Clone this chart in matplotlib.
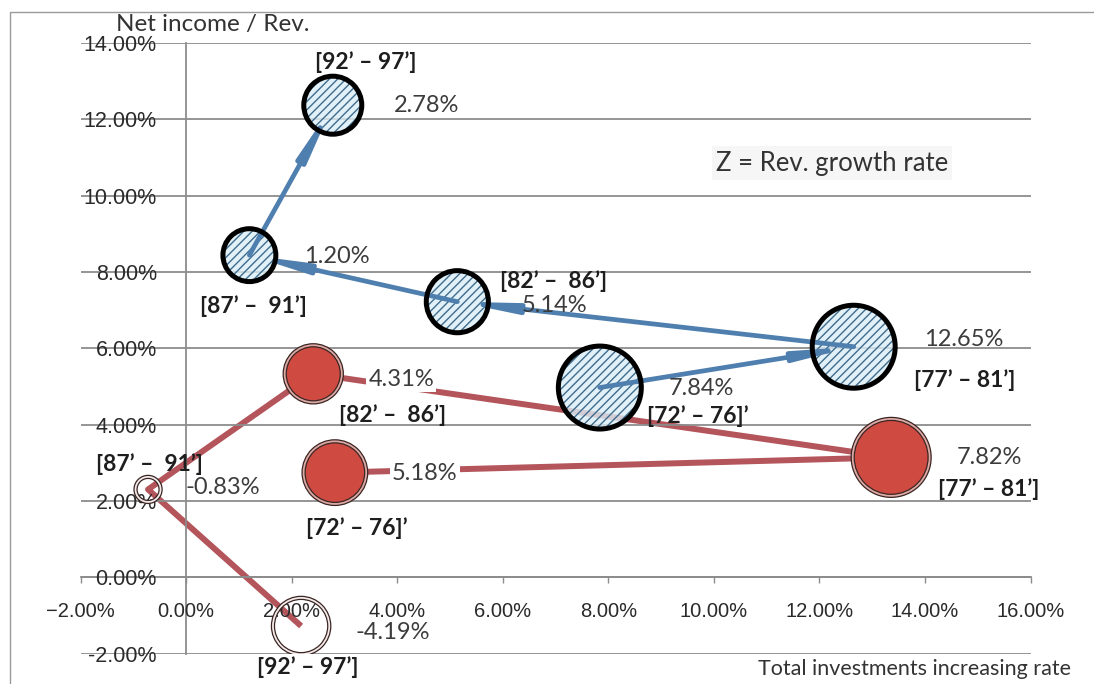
import numpy as np
import matplotlib
matplotlib.use("Agg")
import matplotlib.pyplot as plt
from matplotlib.patches import Rectangle

plt.rcParams['font.family'] = ['Lato', 'DejaVu Sans']
plt.rcParams['hatch.linewidth'] = 1.0

# ---- data ----
periods = ["[72’ – 76]’", "[77’ – 81’]", "[82’ –  86’]", "[87’ –  91’]", "[92’ – 97’]"]

# blue series (labelled with its x value)
blue_x = [7.84, 12.65, 5.14, 1.20, 2.78]
blue_y = [4.97, 6.04, 7.22, 8.44, 12.37]
blue_size = [9.1, 9.1, 5.1, 3.7, 4.45]

# red series (labelled with bubble value, negative -> hollow bubble)
red_x = [2.82, 13.36, 2.41, -0.72, 2.18]
red_y = [2.74, 3.14, 5.33, 2.30, -1.28]
red_z = [5.18, 7.82, 4.31, -0.83, -4.19]

x_ticks = np.arange(-2, 17, 2)
y_ticks = np.arange(-2, 15, 2)

# label offsets in pixels from bubble centre (dx, dy)
blue_val_off = [(102, -1), (110, 7), (97, -4), (87, -1), (94, 0)]
blue_per_off = [(98, -29), (111, -33), (96, 21), (4, -51), (33, 43)]
red_val_off = [(90, -1), (98, 0), (88, -6), (75, 2), (92, -6)]
red_per_off = [(22, -55), (98, -32), (79, -41), (1, 25), (7, -41)]

GRID = '#8c8c8c'
SCALE = 19.8  # bubble diameter in points per sqrt(value)


def diam(z):
    return SCALE * np.sqrt(np.abs(np.asarray(z, dtype=float)))


fig = plt.figure(figsize=(10.94, 6.84), dpi=100)
ax = fig.add_axes([80.5 / 1094, 30.5 / 684, 950 / 1094, 610.5 / 684])
ax.set_xlim(-2, 16)
ax.set_ylim(-2, 14)

for s in ['top', 'right']:
    ax.spines[s].set_visible(False)
ax.spines['left'].set_position(('data', 0))
ax.spines['bottom'].set_position(('data', 0))
for s in ['left', 'bottom']:
    ax.spines[s].set_color(GRID)
    ax.spines[s].set_linewidth(1.3)
    ax.spines[s].set_zorder(1.2)

for yv in y_ticks:
    ax.axhline(yv, color=GRID, lw=1.3, zorder=1.2)

ax.set_xticks(x_ticks, labels=[f"{v:.2f}%".replace('-', '\u2212') for v in x_ticks],
              fontfamily='Liberation Sans')
ax.set_yticks(y_ticks, labels=[f"{v:.2f}%" for v in y_ticks], fontfamily='Liberation Sans')
ax.tick_params(axis='x', direction='out', length=4, width=1, color=GRID, pad=14,
               labelsize=14.5, labelcolor='#2a2a2a')
ax.tick_params(axis='y', length=0, pad=21, labelsize=15.5, labelcolor='#2a2a2a')

# red path + bubbles
ax.plot(red_x, red_y, color='#b4555b', lw=4.3, solid_capstyle='butt', zorder=1)
d_red = diam(red_z)
red_face = ['#cf4b42' if z > 0 else 'none' for z in red_z]
red_ring = ['#dcaaa5' if z > 0 else '#f3eceb' for z in red_z]
ax.scatter(red_x, red_y, s=d_red ** 2, facecolors=red_face, edgecolors=red_ring,
           linewidths=2.2, zorder=2)
ax.scatter(red_x, red_y, s=(d_red + 2.2) ** 2, facecolors='none', edgecolors='#3b2523',
           linewidths=0.9, zorder=2.1)
ax.scatter(red_x, red_y, s=(d_red - 2.2) ** 2, facecolors='none', edgecolors='#3b2523',
           linewidths=0.9, zorder=2.1)

# blue bubbles: hatched fill, arrows, thick black ring
d_blue = diam(blue_size)
ax.scatter(blue_x, blue_y, s=d_blue ** 2, facecolors=(0.86, 0.93, 0.96, 0.8),
           edgecolors='#3f6d8f', linewidths=0, hatch='////', zorder=3)
for i in range(len(blue_x) - 1):
    ax.annotate('', xy=(blue_x[i + 1], blue_y[i + 1]), xytext=(blue_x[i], blue_y[i]),
                arrowprops=dict(arrowstyle='-|>,head_length=2.4,head_width=0.22',
                                color='#4f7fae', lw=3.4, shrinkA=0, shrinkB=0,
                                mutation_scale=12),
                zorder=4)
ax.scatter(blue_x, blue_y, s=d_blue ** 2, facecolors='none', edgecolors='black',
           linewidths=3.6, zorder=5)


def value_label(x, y, text, off):
    # white patch behind the text hides the path lines, not the gridlines
    ax.annotate(text, xy=(x, y), xytext=off, textcoords='offset pixels', ha='center',
                va='center', fontsize=17, color='none', zorder=1.1,
                bbox=dict(fc='white', ec='none', pad=1.5), annotation_clip=False)
    ax.annotate(text, xy=(x, y), xytext=off, textcoords='offset pixels', ha='center',
                va='center', fontsize=17, color='#3c3c3c', zorder=6, annotation_clip=False)


def period_label(x, y, text, off):
    ax.annotate(text, xy=(x, y), xytext=off, textcoords='offset pixels', ha='center',
                va='center', fontsize=16.5, fontweight='bold', color='#1e1e1e', zorder=6,
                annotation_clip=False)


for i in range(len(periods)):
    value_label(blue_x[i], blue_y[i], f"{blue_x[i]:.2f}%", blue_val_off[i])
    period_label(blue_x[i], blue_y[i], periods[i], blue_per_off[i])
    value_label(red_x[i], red_y[i], f"{red_z[i]:.2f}%", red_val_off[i])
    period_label(red_x[i], red_y[i], periods[i], red_per_off[i])

fig.text(213 / 1094, 1 - 25 / 684, "Net income / Rev.", ha='center', va='center',
         fontsize=17.5, color='#333333')
fig.text(832 / 1094, 1 - 163 / 684, "Z = Rev. growth rate", ha='center', va='center',
         fontsize=18.5, color='#333333',
         bbox=dict(fc='#f6f6f6', ec='none', pad=3))
fig.text(915 / 1094, 1 - 669 / 684, "Total investments increasing rate", ha='center',
         va='center', fontsize=15.5, color='#333333')

# outer chart frame
fig.add_artist(Rectangle((10 / 1094, -0.1), 1.2, 1 - 12 / 684 + 0.1,
                         transform=fig.transFigure, fill=False, edgecolor='#9a9a9a', lw=1))

fig.savefig('out.png', dpi=100)
